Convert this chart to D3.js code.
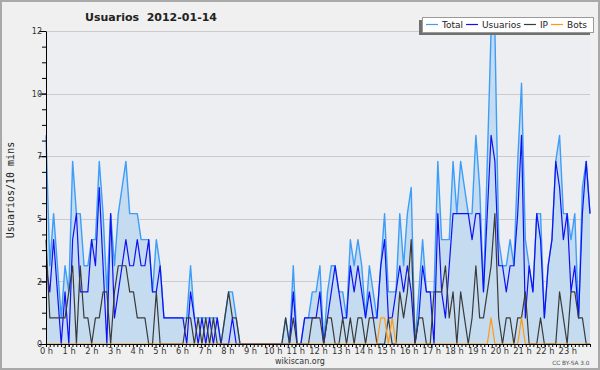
<!DOCTYPE html>
<html>
<head>
<meta charset="utf-8">
<script src="https://cdn.jsdelivr.net/npm/d3@7"></script>
<style>
    html, body { margin: 0; padding: 0; background: #f0f0f0; }
    svg { display: block; font-family: "DejaVu Sans", Verdana, sans-serif; }
</style>
</head>
<body>
<svg id="chart" width="600" height="370"></svg>
<script>
var title = "Usuarios  2012-01-14";
var yTitle = "Usuarios/10 mins";
var footer = "wikiscan.org";
var licence = "CC BY-SA 3.0";

var seriesNames = ["Total", "Usuarios", "IP", "Bots"];
var seriesColors = ["#3d9df8", "#1010f5", "#3a3a3a", "#ff9a10"];

var hourLabels = ["0 h", "1 h", "2 h", "3 h", "4 h", "5 h", "6 h", "7 h", "8 h", "9 h", "10 h", "11 h",
    "12 h", "13 h", "14 h", "15 h", "16 h", "17 h", "18 h", "19 h", "20 h", "21 h", "22 h", "23 h"];

// one value every 10 minutes
var total = [
    8, 3, 5, 3, 1, 3, 2, 7, 5, 5,
    3, 3, 4, 4, 7, 5, 2, 5, 3, 5,
    6, 7, 5, 5, 5, 4, 4, 4, 2, 4,
    3, 1, 1, 1, 1, 1, 1, 1, 3, 1,
    1, 1, 1, 1, 1, 1, 0, 1, 2, 2,
    1, 0, 0, 0, 0, 0, 0, 0, 0, 0,
    0, 0, 0, 1, 0, 3, 0, 0, 1, 1,
    2, 2, 3, 0, 2, 3, 3, 2, 2, 1,
    4, 3, 4, 3, 1, 3, 2, 1, 3, 5,
    2, 2, 2, 5, 3, 5, 6, 0, 2, 4,
    2, 2, 2, 7, 4, 4, 4, 7, 5, 7,
    6, 5, 5, 8, 6, 2, 7, 12, 12, 4,
    3, 3, 4, 3, 7, 10, 4, 3, 2, 5,
    5, 1, 3, 4, 7, 8, 5, 5, 4, 5,
    1, 6, 7, 5
];

var usuarios = [
    3, 2, 4, 2, 0, 2, 0, 4, 5, 2,
    2, 2, 4, 3, 6, 3, 0, 5, 1, 2,
    3, 4, 3, 3, 4, 3, 3, 4, 2, 2,
    3, 1, 1, 1, 1, 1, 1, 0, 2, 1,
    0, 1, 0, 1, 0, 1, 0, 0, 0, 1,
    0, 0, 0, 0, 0, 0, 0, 0, 0, 0,
    0, 0, 0, 0, 0, 2, 0, 0, 1, 1,
    1, 1, 2, 0, 1, 2, 3, 2, 1, 1,
    3, 2, 3, 2, 1, 2, 1, 1, 3, 4,
    1, 1, 2, 3, 2, 3, 2, 0, 1, 3,
    2, 2, 0, 5, 2, 1, 3, 5, 5, 5,
    5, 5, 4, 5, 5, 2, 5, 8, 7, 3,
    3, 2, 3, 3, 5, 8, 1, 3, 2, 5,
    4, 1, 3, 4, 7, 6, 4, 5, 2, 3,
    1, 5, 7, 5
];

var ip = [
    4, 1, 1, 1, 1, 1, 2, 3, 0, 3,
    1, 1, 0, 1, 1, 2, 2, 0, 2, 3,
    3, 3, 2, 2, 1, 1, 1, 0, 0, 2,
    0, 0, 0, 0, 0, 0, 0, 1, 1, 0,
    1, 0, 1, 0, 1, 0, 0, 1, 2, 1,
    1, 0, 0, 0, 0, 0, 0, 0, 0, 0,
    0, 0, 0, 1, 0, 1, 0, 0, 0, 0,
    1, 1, 1, 0, 1, 1, 0, 0, 1, 0,
    1, 0, 1, 1, 0, 1, 1, 0, 0, 0,
    1, 0, 0, 2, 1, 2, 4, 0, 1, 1,
    0, 0, 2, 2, 2, 3, 1, 2, 0, 2,
    1, 0, 1, 3, 1, 1, 2, 3, 5, 1,
    0, 1, 1, 0, 1, 1, 2, 0, 0, 0,
    1, 0, 0, 0, 0, 2, 1, 0, 2, 2,
    1, 1, 0, 0
];

var bots = [
    0, 0, 0, 0, 0, 0, 0, 0, 0, 0,
    0, 0, 0, 0, 0, 0, 0, 0, 0, 0,
    0, 0, 0, 0, 0, 0, 0, 0, 0, 0,
    0, 0, 0, 0, 0, 0, 0, 0, 0, 0,
    0, 0, 0, 0, 0, 0, 0, 0, 0, 0,
    0, 0, 0, 0, 0, 0, 0, 0, 0, 0,
    0, 0, 0, 0, 0, 0, 0, 0, 0, 0,
    0, 0, 0, 0, 0, 0, 0, 0, 0, 0,
    0, 0, 0, 0, 0, 0, 0, 0, 1, 1,
    0, 1, 0, 0, 0, 0, 0, 0, 0, 0,
    0, 0, 0, 0, 0, 0, 0, 0, 0, 0,
    0, 0, 0, 0, 0, 0, 0, 1, 0, 0,
    0, 0, 0, 0, 0, 1, 0, 0, 0, 0,
    0, 0, 0, 0, 0, 0, 0, 0, 0, 0,
    0, 0, 0, 0
];

var W = 600, H = 370;
var plotL = 46, plotR = 590, plotT = 31, plotB = 344;
var yMax = 12;

var svg = d3.select("#chart");

svg.append("rect")
    .attr("x", 1).attr("y", 1)
    .attr("width", W - 2).attr("height", H - 2)
    .attr("fill", "#f0f0f0")
    .attr("stroke", "#a9a9a9")
    .attr("stroke-width", 2);

var x = d3.scaleLinear().domain([0, total.length - 1]).range([plotL, plotR]);
var xHour = d3.scaleLinear().domain([0, 24]).range([plotL, plotR]);
var y = d3.scaleLinear().domain([0, yMax]).range([plotB, plotT]);

var majorTicks = d3.range(0, yMax + 0.001, yMax / 5);
var minorTicks = d3.range(0, yMax + 0.001, yMax / 20);

// plot background + grid
svg.append("rect")
    .attr("x", plotL).attr("y", plotT)
    .attr("width", plotR - plotL).attr("height", plotB - plotT)
    .attr("fill", "#eceef1");

svg.append("g").selectAll("line")
    .data(majorTicks.slice(1))
    .enter().append("line")
    .attr("x1", plotL).attr("x2", plotR)
    .attr("y1", function (d) { return Math.round(y(d)) + 0.5; })
    .attr("y2", function (d) { return Math.round(y(d)) + 0.5; })
    .attr("stroke", "#cbcbcb")
    .attr("stroke-width", 1);

// series
var area = d3.area()
    .x(function (d, i) { return x(i); })
    .y0(y(0))
    .y1(function (d) { return y(d); });

svg.append("path")
    .datum(total)
    .attr("d", area)
    .attr("fill", "#c5dcf0");

var line = d3.line()
    .x(function (d, i) { return x(i); })
    .y(function (d) { return y(d); });

[total, usuarios, ip, bots].forEach(function (s, k) {
    svg.append("path")
        .datum(s)
        .attr("d", line)
        .attr("fill", "none")
        .attr("stroke", seriesColors[k])
        .attr("stroke-width", k == 0 ? 1.4 : 1.2)
        .attr("stroke-linejoin", "round");
});

// y axis
var yAxisMinor = svg.append("g")
    .attr("transform", "translate(" + plotL + ",0)")
    .call(d3.axisLeft(y).tickValues(minorTicks).tickSize(4).tickSizeOuter(0).tickFormat(""));
yAxisMinor.select(".domain").remove();

var yAxis = svg.append("g")
    .attr("transform", "translate(" + plotL + ",0)")
    .call(d3.axisLeft(y)
        .tickValues(majorTicks)
        .tickSize(7)
        .tickSizeOuter(0)
        .tickPadding(-3)
        .tickFormat(function (d) { return Math.round(d); }));
yAxis.selectAll("text")
    .attr("font-size", 8)
    .attr("font-family", "DejaVu Sans")
    .attr("fill", "#333")
    .attr("dy", "0.34em");

// x axis
var xMinor = svg.append("g")
    .attr("transform", "translate(0," + plotB + ")")
    .call(d3.axisBottom(xHour).tickValues(d3.range(0, 24.001, 1 / 6)).tickSize(3).tickSizeOuter(0).tickFormat(""));
xMinor.select(".domain").remove();

var xAxis = svg.append("g")
    .attr("transform", "translate(0," + plotB + ")")
    .call(d3.axisBottom(xHour)
        .tickValues(d3.range(24))
        .tickSize(3)
        .tickSizeOuter(0)
        .tickPadding(1)
        .tickFormat(function (d) { return hourLabels[d]; }));
xAxis.selectAll("text")
    .attr("font-size", 8.3)
    .attr("font-family", "DejaVu Sans")
    .attr("fill", "#333");

svg.selectAll(".domain").attr("stroke", "#000");
svg.selectAll(".tick line").attr("stroke", "#000");

// texts
svg.append("text")
    .attr("x", 151).attr("y", 21)
    .attr("text-anchor", "middle")
    .attr("font-size", 11)
    .attr("font-weight", "bold")
    .attr("fill", "#222")
    .style("white-space", "pre")
    .text(title);

svg.append("text")
    .attr("transform", "translate(13.5,190) rotate(-90)")
    .attr("text-anchor", "middle")
    .attr("font-family", "DejaVu Sans Mono")
    .attr("font-size", 10)
    .attr("fill", "#222")
    .text(yTitle);

svg.append("text")
    .attr("x", 300).attr("y", 363.5)
    .attr("text-anchor", "middle")
    .attr("font-size", 8)
    .attr("fill", "#333")
    .text(footer);

svg.append("text")
    .attr("x", 589.5).attr("y", 364.5)
    .attr("text-anchor", "end")
    .attr("font-size", 5.8)
    .attr("fill", "#555")
    .text(licence);

// legend
var lx = 422, ly = 17, lw = 171, lh = 15;
svg.append("rect")
    .attr("x", lx - 3).attr("y", ly + 3)
    .attr("width", lw).attr("height", lh)
    .attr("fill", "#707070");
svg.append("rect")
    .attr("x", lx + 0.5).attr("y", ly + 0.5)
    .attr("width", lw).attr("height", lh)
    .attr("fill", "#fff")
    .attr("stroke", "#9a9a9a")
    .attr("stroke-width", 1);

var cx = lx + 4;
seriesNames.forEach(function (name, k) {
    svg.append("line")
        .attr("x1", cx).attr("x2", cx + 12)
        .attr("y1", ly + 7.5).attr("y2", ly + 7.5)
        .attr("stroke", seriesColors[k])
        .attr("stroke-width", 1.2);
    var t = svg.append("text")
        .attr("x", cx + 16).attr("y", ly + 10.5)
        .attr("font-size", 9)
        .attr("fill", "#222")
        .text(name);
    cx += 16 + t.node().getComputedTextLength() + 3;
});
</script>
</body>
</html>
